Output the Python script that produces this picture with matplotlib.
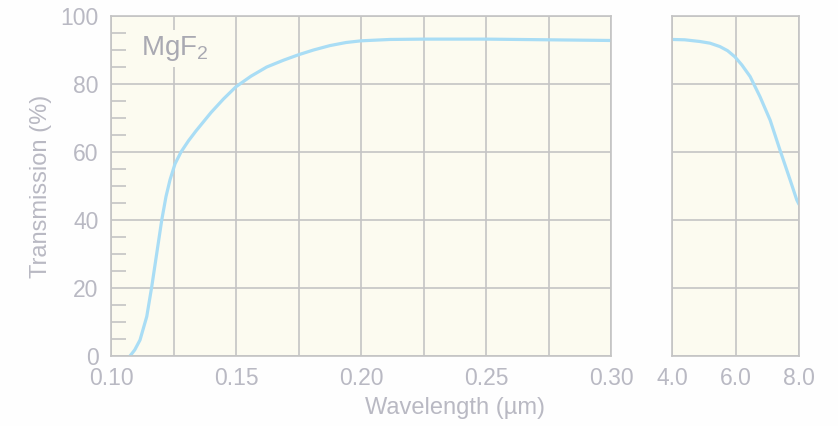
import matplotlib
matplotlib.use('Agg')
import matplotlib.pyplot as plt
from matplotlib.ticker import MultipleLocator

# UV branch (wavelength in um, transmission in %)
uv_wl = [0.1076, 0.1095, 0.1116, 0.1143, 0.1163, 0.1183, 0.1203, 0.122,
         0.1236, 0.1256, 0.128, 0.131, 0.134, 0.137, 0.140, 0.145,
         0.150, 0.156, 0.1623, 0.169, 0.175, 0.181, 0.1876, 0.194,
         0.200, 0.2116, 0.2250, 0.2500, 0.2750, 0.3000]
uv_t = [0, 1.8, 4.7, 11.6, 20.4, 30.2, 40, 46.9,
        51.8, 56.5, 60.0, 63.3, 66.2, 68.9, 71.6, 75.6,
        79.2, 82.3, 85.0, 87.0, 88.6, 90.0, 91.3, 92.2,
        92.7, 93.1, 93.2, 93.2, 93.0, 92.8]

# IR branch
ir_wl = [4.0, 4.4, 4.88, 5.2, 5.51, 5.75, 5.98, 6.2, 6.46, 6.77,
         7.09, 7.40, 7.72, 7.93, 8.0]
ir_t = [93.1, 93.0, 92.5, 92.0, 91.0, 89.8, 88.0, 85.6, 82.2, 76.3,
        69.4, 60.6, 51.8, 45.9, 44.6]

uv_ticks = [0.10, 0.15, 0.20, 0.25, 0.30]
uv_ticklabels = ['0.10', '0.15', '0.20', '0.25', '0.30']
ir_ticks = [4.0, 6.0, 8.0]
ir_ticklabels = ['4.0', '6.0', '8.0']
y_ticks = [0, 20, 40, 60, 80, 100]

plt.rcParams['font.family'] = ['Liberation Sans', 'DejaVu Sans']
plt.rcParams['mathtext.default'] = 'regular'

bg = '#fcfbf0'
grid_c = '#c4c4c4'
text_c = '#b9b9c3'
line_c = '#a9ddf5'

W, H = 838, 426
fig = plt.figure(figsize=(W / 100, H / 100), dpi=100)
fig.patch.set_facecolor('#fefefe')


def box(x0, x1, y0, y1):
    return [x0 / W, (H - y1) / H, (x1 - x0) / W, (y1 - y0) / H]


ax1 = fig.add_axes(box(111, 611, 16, 356))
ax2 = fig.add_axes(box(672, 799, 16, 356))

for ax in (ax1, ax2):
    ax.set_facecolor(bg)
    ax.set_ylim(0, 100)
    ax.set_yticks(y_ticks)
    ax.grid(True, which='major', color=grid_c, lw=1.2)
    ax.set_axisbelow(True)
    for s in ax.spines.values():
        s.set_color(grid_c)
        s.set_linewidth(1.2)
    ax.tick_params(which='major', length=0, labelsize=16.5,
                   labelcolor=text_c, pad=8)

ax1.plot(uv_wl, uv_t, color=line_c, lw=2.3, solid_capstyle='round',
         solid_joinstyle='round')
ax1.set_xlim(0.10, 0.30)
ax1.set_xticks(uv_ticks)
ax1.set_xticklabels(uv_ticklabels)
ax1.xaxis.set_minor_locator(MultipleLocator(0.025))
ax1.grid(True, which='minor', axis='x', color=grid_c, lw=1.2)
ax1.yaxis.set_minor_locator(MultipleLocator(5))
ax1.tick_params(axis='y', which='minor', direction='in', length=11,
                width=1.2, color=grid_c)
ax1.tick_params(axis='x', which='minor', length=0)
ax1.tick_params(axis='y', pad=9)
ax1.set_ylabel('Transmission (%)', color=text_c, fontsize=17, labelpad=6)
ax1.text(0.128, 0.905, 'MgF$_2$', transform=ax1.transAxes, ha='center',
         va='center', fontsize=20, color='#a9a9b2',
         bbox=dict(facecolor=bg, edgecolor='none', pad=3))

ax2.plot(ir_wl, ir_t, color=line_c, lw=2.3, solid_capstyle='round',
         solid_joinstyle='round')
ax2.set_xlim(4.0, 8.0)
ax2.set_xticks(ir_ticks)
ax2.set_xticklabels(ir_ticklabels)
ax2.tick_params(axis='y', labelleft=False)

fig.text(455 / W, 1 - 408 / H, 'Wavelength (\u00b5m)', ha='center',
         va='center', fontsize=17, color=text_c)

fig.savefig('out.png', dpi=100, facecolor=fig.get_facecolor())
